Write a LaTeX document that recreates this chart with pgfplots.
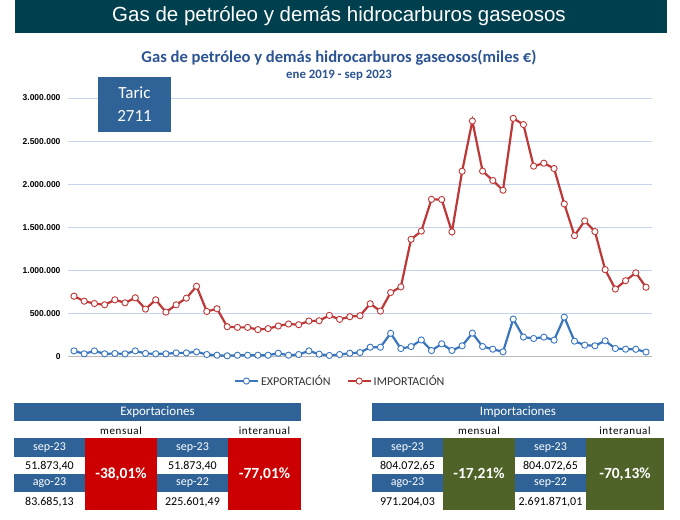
\documentclass[border=0pt]{standalone}
\usepackage{pgfplots}
\pgfplotsset{compat=1.18}
\usepackage{pgfplotstable}
\usepackage{fontspec}
\setmainfont{Carlito}
\newfontfamily\arialfont{Liberation Sans}

\definecolor{banner}{RGB}{0,64,78}
\definecolor{titleblue}{RGB}{44,84,148}
\definecolor{cellblue}{RGB}{47,99,152}
\definecolor{expblue}{RGB}{58,118,190}
\definecolor{impred}{RGB}{190,56,56}
\definecolor{gridblue}{RGB}{196,212,238}
\definecolor{negred}{RGB}{204,0,0}
\definecolor{olive}{RGB}{79,98,40}
\definecolor{legtext}{RGB}{50,50,50}

\newcommand{\fs}[1]{\fontsize{#1bp}{#1bp}\selectfont}

% monthly values, miles EUR, ene 2019 (1) .. sep 2023 (57)
\pgfplotstableread{
m  exp    imp
1  65000  700000
2  31000  642000
3  65000  615000
4  31000  600000
5  35000  658000
6  31000  623000
7  65000  681000
8  35000  550000
9  31000  658000
10 31000  515000
11 42000  600000
12 42000  677000
13 54000  815000
14 23000  523000
15 15000  554000
16 8000   346000
17 15000  338000
18 15000  338000
19 15000  312000
20 15000  323000
21 38000  354000
22 15000  377000
23 23000  369000
24 65000  412000
25 27000  415000
26 12000  477000
27 23000  431000
28 38000  462000
29 46000  473000
30 108000 612000
31 108000 527000
32 269000 742000
33 92000  808000
34 115000 1360000
35 192000 1455000
36 69000  1824000
37 147000 1822000
38 70000  1446000
39 124000 2150000
40 271000 2733000
41 116000 2151000
42 85000  2043000
43 54000  1930000
44 434000 2764000
45 225601 2691871
46 209000 2209000
47 225000 2244000
48 190000 2182000
49 457000 1771000
50 178000 1403000
51 132000 1574000
52 124000 1450000
53 182000 1008000
54 93000  783000
55 85000  880000
56 83685  971204
57 51873  804073
}\flows

\begin{document}
\begin{tikzpicture}
\useasboundingbox (0,0) rectangle (680bp,520bp);
\fill[white] (0,0) rectangle (680bp,520bp);

\begin{scope}[x=1bp,y=1bp]
  \fill[banner] (15,487) rectangle (667,520);
  \node[text=white,inner sep=0pt] at (339,503.5) {\arialfont\fs{20.5}Gas de petróleo y demás hidrocarburos gaseosos};
  \node[text=titleblue,inner sep=0pt,font=\bfseries\fs{16.6}] at (339,462) {Gas de petróleo y demás hidrocarburos gaseosos(miles €)};
  \node[text=titleblue,inner sep=0pt,font=\bfseries\fs{12.8}] at (339,445) {ene 2019 - sep 2023};
\end{scope}

\begin{axis}[
  at={(68bp,163.5bp)}, anchor=south west,
  width=584bp, height=258.5bp, scale only axis,
  xmin=0.413, xmax=57.587, ymin=0, ymax=3000000,
  axis line style={draw=none},
  xtick=\empty,
  scaled y ticks=false,
  ytick={500000,1000000,1500000,2000000,2500000,3000000},
  yticklabels={500.000,1.000.000,1.500.000,2.000.000,2.500.000,3.000.000},
  extra y ticks={0}, extra y tick labels={0},
  extra y tick style={grid style={draw=black!28, line width=1.6bp}},
  ymajorgrids, grid style={draw=gridblue, line width=0.9bp},
  major tick length=0pt,
  yticklabel style={font=\arialfont\bfseries\fs{8.5}, text=black, xshift=-4bp},
  clip=false,
  legend columns=2,
  legend style={at={(0.466,-0.095)}, anchor=center, draw=none, fill=none,
    font=\fs{12}, text=legtext, inner sep=0pt,
    /tikz/every even column/.append style={column sep=14bp}},
  legend image code/.code={
    \draw[mark repeat=2,mark phase=2,#1] plot coordinates {(0bp,0bp) (11.5bp,0bp) (23bp,0bp)};
  },
]
\addplot[expblue, line width=2.2bp, mark=*, mark size=3.1bp,
  mark options={fill=white, draw=expblue, line width=0.9bp}]
  table[x=m,y=exp]{\flows};
\addlegendentry{EXPORTACIÓN}
\addplot[impred, line width=2.2bp, mark=*, mark size=3.1bp,
  mark options={fill=white, draw=impred, line width=0.9bp}]
  table[x=m,y=imp]{\flows};
\addlegendentry{IMPORTACIÓN}
\end{axis}

\begin{scope}[x=1bp,y=1bp]
  % Taric box
  \fill[cellblue] (98,388) rectangle (171,443);
  \node[text=white,inner sep=0pt,font=\fs{17}] at (134.5,427) {Taric};
  \node[text=white,inner sep=0pt,font=\fs{17}] at (134.5,404) {2711};

  % Exportaciones
  \fill[cellblue] (14,99) rectangle (301,117);
  \node[text=white,inner sep=0pt,font=\fs{13}] at (157.5,108) {Exportaciones};
  \node[inner sep=0pt,font=\fs{11}\addfontfeature{LetterSpace=6}] at (121,89) {mensual};
  \node[inner sep=0pt,font=\fs{11}\addfontfeature{LetterSpace=6}] at (264.5,89) {interanual};
  \fill[cellblue] (14,63) rectangle (85,82);
  \fill[cellblue] (14,28) rectangle (85,46);
  \fill[cellblue] (157,63) rectangle (228,82);
  \fill[cellblue] (157,28) rectangle (228,46);
  \fill[negred] (85,10) rectangle (157,82);
  \fill[negred] (228,10) rectangle (301,82);
  \node[text=white,inner sep=0pt,font=\fs{12}] at (49.5,72.5) {sep-23};
  \node[text=white,inner sep=0pt,font=\fs{12}] at (49.5,37) {ago-23};
  \node[text=white,inner sep=0pt,font=\fs{12}] at (192.5,72.5) {sep-23};
  \node[text=white,inner sep=0pt,font=\fs{12}] at (192.5,37) {sep-22};
  \node[inner sep=0pt,font=\fs{12}] at (49.5,54) {51.873,40};
  \node[inner sep=0pt,font=\fs{12}] at (49.5,18) {83.685,13};
  \node[inner sep=0pt,font=\fs{12}] at (192.5,54) {51.873,40};
  \node[inner sep=0pt,font=\fs{12}] at (192.5,18) {225.601,49};
  \node[text=white,inner sep=0pt,font=\bfseries\fs{15.5}] at (121,46) {-38,01\%};
  \node[text=white,inner sep=0pt,font=\bfseries\fs{15.5}] at (264.5,46) {-77,01\%};

  % Importaciones
  \fill[cellblue] (372,99) rectangle (664,117);
  \node[text=white,inner sep=0pt,font=\fs{13}] at (518,108) {Importaciones};
  \node[inner sep=0pt,font=\fs{11}\addfontfeature{LetterSpace=6}] at (479,89) {mensual};
  \node[inner sep=0pt,font=\fs{11}\addfontfeature{LetterSpace=6}] at (625,89) {interanual};
  \fill[cellblue] (372,63) rectangle (443,82);
  \fill[cellblue] (372,28) rectangle (443,46);
  \fill[cellblue] (515,63) rectangle (586,82);
  \fill[cellblue] (515,28) rectangle (586,46);
  \fill[olive] (443,10) rectangle (515,82);
  \fill[olive] (586,10) rectangle (664,82);
  \node[text=white,inner sep=0pt,font=\fs{12}] at (407.5,72.5) {sep-23};
  \node[text=white,inner sep=0pt,font=\fs{12}] at (407.5,37) {ago-23};
  \node[text=white,inner sep=0pt,font=\fs{12}] at (550.5,72.5) {sep-23};
  \node[text=white,inner sep=0pt,font=\fs{12}] at (550.5,37) {sep-22};
  \node[inner sep=0pt,font=\fs{12}] at (407.5,54) {804.072,65};
  \node[inner sep=0pt,font=\fs{12}] at (407.5,18) {971.204,03};
  \node[inner sep=0pt,font=\fs{12}] at (550.5,54) {804.072,65};
  \node[inner sep=0pt,font=\fs{12}] at (550.5,18) {2.691.871,01};
  \node[text=white,inner sep=0pt,font=\bfseries\fs{15.5}] at (479,46) {-17,21\%};
  \node[text=white,inner sep=0pt,font=\bfseries\fs{15.5}] at (625,46) {-70,13\%};
\end{scope}
\end{tikzpicture}
\end{document}
